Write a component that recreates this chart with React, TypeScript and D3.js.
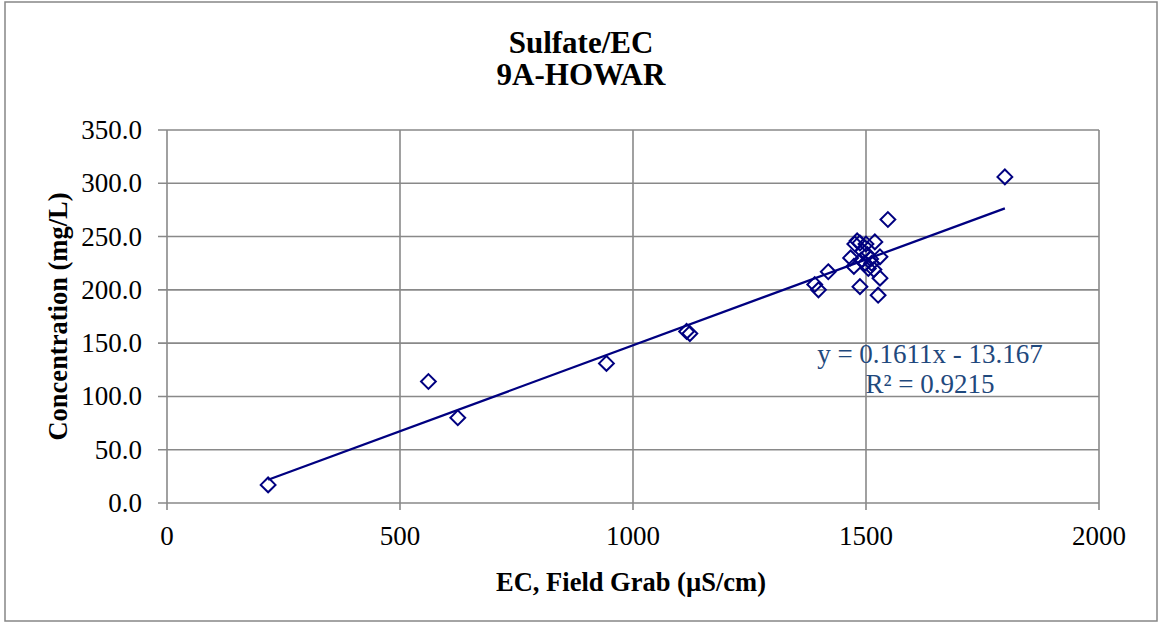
import React from "react";
import * as d3 from "d3";

// EC field grab (µS/cm) vs sulfate concentration (mg/L)
const ecValues = [
  217, 561, 624, 943, 1115, 1122, 1390, 1398, 1419, 1547, 1798,
  1476, 1481, 1487, 1500, 1519, 1467, 1474, 1493, 1503, 1510, 1530,
  1498, 1512, 1490, 1517, 1530, 1487, 1526, 1505,
];
const sulfateValues = [
  17, 114, 80, 131, 161, 159, 205, 200, 217, 266, 306,
  243, 246, 244, 243, 245, 230, 222, 236, 233, 229, 231,
  225, 225, 228, 219, 211, 203, 195, 220,
];
const xTicks = [0, 500, 1000, 1500, 2000];
const yTicks = [0, 50, 100, 150, 200, 250, 300, 350];
const titleLines = ["Sulfate/EC", "9A-HOWAR"];
const trendSlope = 0.1611;
const trendIntercept = -13.167;
const trendLabels = ["y = 0.1611x - 13.167", "R² = 0.9215"];

const W = 1160;
const H = 623;
const plot = { left: 167, right: 1099, top: 130, bottom: 503 };
const serif = "'Liberation Serif', 'Times New Roman', serif";
const navy = "#000080";
const grid = "#898989";

export default function App() {
  const x = d3.scaleLinear().domain([0, 2000]).range([plot.left, plot.right]);
  const y = d3.scaleLinear().domain([0, 350]).range([plot.bottom, plot.top]);
  const points = ecValues.map((v, i) => [v, sulfateValues[i]] as [number, number]);
  const diamond = d3.symbol(d3.symbolDiamond2, 140)();
  const xMin = d3.min(ecValues) as number;
  const xMax = d3.max(ecValues) as number;
  const trend = d3.line<number>()
    .x(d => x(d))
    .y(d => y(trendSlope * d + trendIntercept))([xMin, xMax]);

  return (
    <svg width={W} height={H} style={{ position: "absolute", left: 0, top: 0, background: "#fff" }}>
      <rect x={5} y={2} width={1152} height={619} fill="#fff" stroke="#868686" strokeWidth={1.5} />

      {titleLines.map((t, i) => (
        <text key={t} x={581} y={53 + i * 32} textAnchor="middle" fontFamily={serif}
          fontWeight="bold" fontSize={31}>{t}</text>
      ))}

      {/* grid */}
      {yTicks.map(t => (
        <g key={"y" + t}>
          <line x1={plot.left - 9} x2={plot.right} y1={y(t)} y2={y(t)} stroke={grid} strokeWidth={1.6} />
          <text x={142} y={y(t) + 9} textAnchor="end" fontFamily={serif} fontSize={27}>{t.toFixed(1)}</text>
        </g>
      ))}
      {xTicks.map(t => (
        <g key={"x" + t}>
          <line x1={x(t)} x2={x(t)} y1={plot.top} y2={plot.bottom + 7} stroke={grid} strokeWidth={1.6} />
          <text x={x(t)} y={545} textAnchor="middle" fontFamily={serif} fontSize={27}>{t}</text>
        </g>
      ))}

      <text x={631} y={591} textAnchor="middle" fontFamily={serif} fontWeight="bold" fontSize={26.5}>
        EC, Field Grab (µS/cm)
      </text>
      <text transform={`translate(67,${(plot.top + plot.bottom) / 2}) rotate(-90)`} textAnchor="middle"
        fontFamily={serif} fontWeight="bold" fontSize={26.5}>
        Concentration (mg/L)
      </text>

      <path d={trend ?? ""} fill="none" stroke={navy} strokeWidth={2.3} />

      {points.map(([a, b], i) => (
        <path key={i} d={diamond ?? ""} transform={`translate(${x(a)},${y(b)})`}
          fill="none" stroke={navy} strokeWidth={2} />
      ))}

      {trendLabels.map((t, i) => (
        <text key={t} x={930} y={363 + i * 30} textAnchor="middle" fontFamily={serif}
          fontSize={27} fill="#1f497d">{t}</text>
      ))}
    </svg>
  );
}
